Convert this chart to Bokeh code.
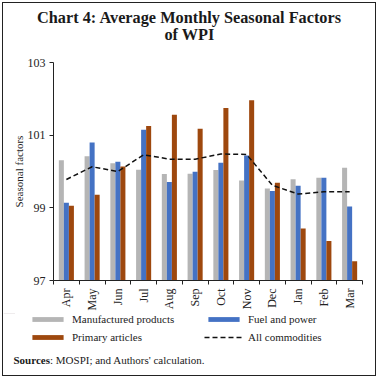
import numpy as np
from bokeh.plotting import figure
from bokeh.layouts import column
from bokeh.models import (ColumnDataSource, FixedTicker, Label, Legend, LegendItem, Range1d)
from bokeh.transform import dodge
from bokeh.embed import file_html
from bokeh.resources import INLINE

months = ["Apr", "May", "Jun", "Jul", "Aug", "Sep", "Oct", "Nov", "Dec", "Jan", "Feb", "Mar"]
manufactured = [100.31, 100.42, 100.23, 100.05, 99.93, 99.94, 100.04, 99.75, 99.53, 99.79, 99.83, 100.10]
fuel_power = [99.14, 100.80, 100.27, 101.15, 99.71, 99.99, 100.24, 100.44, 99.46, 99.61, 99.83, 99.04]
primary = [99.06, 99.36, 100.14, 101.25, 101.56, 101.18, 101.75, 101.96, 99.69, 98.43, 98.09, 97.53]
all_commod = [99.78, 100.13, 100.00, 100.46, 100.34, 100.34, 100.48, 100.47, 99.62, 99.38, 99.44, 99.44]
y_ticks = [97, 99, 101, 103]
series_names = ["Manufactured products", "Fuel and power", "Primary articles", "All commodities"]
title_lines = ["Chart 4: Average Monthly Seasonal Factors", "of WPI"]

FONT = "Liberation Serif"
GREY = "#B5B5B5"
BLUE = "#4472C4"
ORANGE = "#9E480E"
INK = "#1a1a1a"
DASH = "5 3"

W = 372
H_TITLE, H_MAIN, H_FOOT = 50, 260, 62

idx = np.arange(len(months))
src = ColumnDataSource(dict(x=idx, man=manufactured, fuel=fuel_power, prim=primary, allc=all_commod))


def blank(h):
    f = figure(width=W, height=h, output_backend="svg", toolbar_location=None,
               x_range=Range1d(0, W), y_range=Range1d(0, h),
               min_border=0, x_axis_location=None, y_axis_location=None)
    f.xgrid.visible = False
    f.ygrid.visible = False
    f.outline_line_color = None
    f.frame_align = False
    return f


# ---- title ----
pt = blank(H_TITLE)
for txt, yy in zip(title_lines, [H_TITLE - 14, H_TITLE - 31]):
    pt.add_layout(Label(x=W / 2, y=yy, text=txt, text_font=FONT, text_font_size="16.3px",
                        text_font_style="bold", text_align="center", text_baseline="middle",
                        text_color=INK))

# ---- main chart ----
p = figure(width=W, height=H_MAIN, output_backend="svg", toolbar_location=None,
           x_range=Range1d(-0.5, len(months) - 0.5), y_range=Range1d(y_ticks[0], y_ticks[-1]),
           min_border_left=50, min_border_right=13, min_border_top=9, min_border_bottom=33)
p.outline_line_color = None
p.xgrid.visible = False
p.ygrid.visible = False
p.frame_align = False

bw = 0.195
p.vbar(x=dodge("x", -bw, range=p.x_range), top="man", bottom=y_ticks[0], width=bw, source=src,
       fill_color=GREY, line_color=None)
p.vbar(x=dodge("x", 0, range=p.x_range), top="fuel", bottom=y_ticks[0], width=bw, source=src,
       fill_color=BLUE, line_color=None)
p.vbar(x=dodge("x", bw, range=p.x_range), top="prim", bottom=y_ticks[0], width=bw, source=src,
       fill_color=ORANGE, line_color=None)
p.line(x="x", y="allc", source=src, line_color="#111111", line_width=1.5, line_dash=DASH)

xa = p.xaxis[0]
xa.ticker = FixedTicker(ticks=list(idx), minor_ticks=list(idx - 0.5) + [len(months) - 0.5])
xa.major_label_overrides = {int(i): m for i, m in zip(idx, months)}
xa.major_label_orientation = np.pi / 2
xa.major_tick_out = 0
xa.major_tick_in = 0
xa.minor_tick_out = 4
xa.minor_tick_in = 0
xa.major_label_standoff = 4
xa.axis_line_color = "#222222"
xa.minor_tick_line_color = "#222222"
xa.major_label_text_font = FONT
xa.major_label_text_font_size = "12px"
xa.major_label_text_color = "#222222"

ya = p.yaxis[0]
ya.ticker = FixedTicker(ticks=y_ticks)
ya.minor_tick_line_color = None
ya.major_tick_out = 4
ya.major_tick_in = 0
ya.axis_line_color = "#222222"
ya.major_tick_line_color = "#222222"
ya.major_label_text_font = FONT
ya.major_label_text_font_size = "12px"
ya.major_label_text_color = "#222222"
ya.major_label_standoff = 4
ya.axis_label = "Seasonal factors"
ya.axis_label_text_font = FONT
ya.axis_label_text_font_style = "normal"
ya.axis_label_text_font_size = "11px"
ya.axis_label_text_color = "#222222"
ya.axis_label_standoff = 0

# ---- footer: legend + sources ----
# legend key renderers reuse the data but have zero height / lie outside the footer's visible range
pf = blank(H_FOOT)
g1 = pf.vbar(x="x", top="man", bottom="man", width=bw, source=src, fill_color=GREY, line_color=None)
g2 = pf.vbar(x="x", top="fuel", bottom="fuel", width=bw, source=src, fill_color=BLUE, line_color=None)
g3 = pf.vbar(x="x", top="prim", bottom="prim", width=bw, source=src, fill_color=ORANGE, line_color=None)
g4 = pf.line(x="x", y="allc", source=src, line_color="#111111", line_width=1.5, line_dash=DASH)
rends = dict(zip(series_names, [g1, g2, g3, g4]))
order = [series_names[0], series_names[2], series_names[1], series_names[3]]  # column-major fill
legend = Legend(items=[LegendItem(label=n, renderers=[rends[n]]) for n in order],
                location=(25, 30), ncols=2, padding=0, margin=0, spacing=2,
                glyph_width=39, glyph_height=6, label_height=16, label_width=130,
                label_standoff=5, border_line_color=None, background_fill_alpha=0,
                label_text_font=FONT, label_text_font_size="11px", label_text_color="#222222",
                label_text_baseline="middle")
pf.add_layout(legend, "center")
pf.add_layout(Label(x=10, y=16, text="Sources", text_font=FONT, text_font_size="11px",
                    text_font_style="bold", text_baseline="middle", text_color=INK))
pf.add_layout(Label(x=46.5, y=16, text=": MOSPI; and Authors' calculation.", text_font=FONT,
                    text_font_size="11px", text_baseline="middle", text_color=INK))

layout = column(pt, p, pf, spacing=0)
layout.styles = {"border": "1px solid #222", "margin": "2px"}

open("out.html", "w").write(file_html(layout, INLINE))
